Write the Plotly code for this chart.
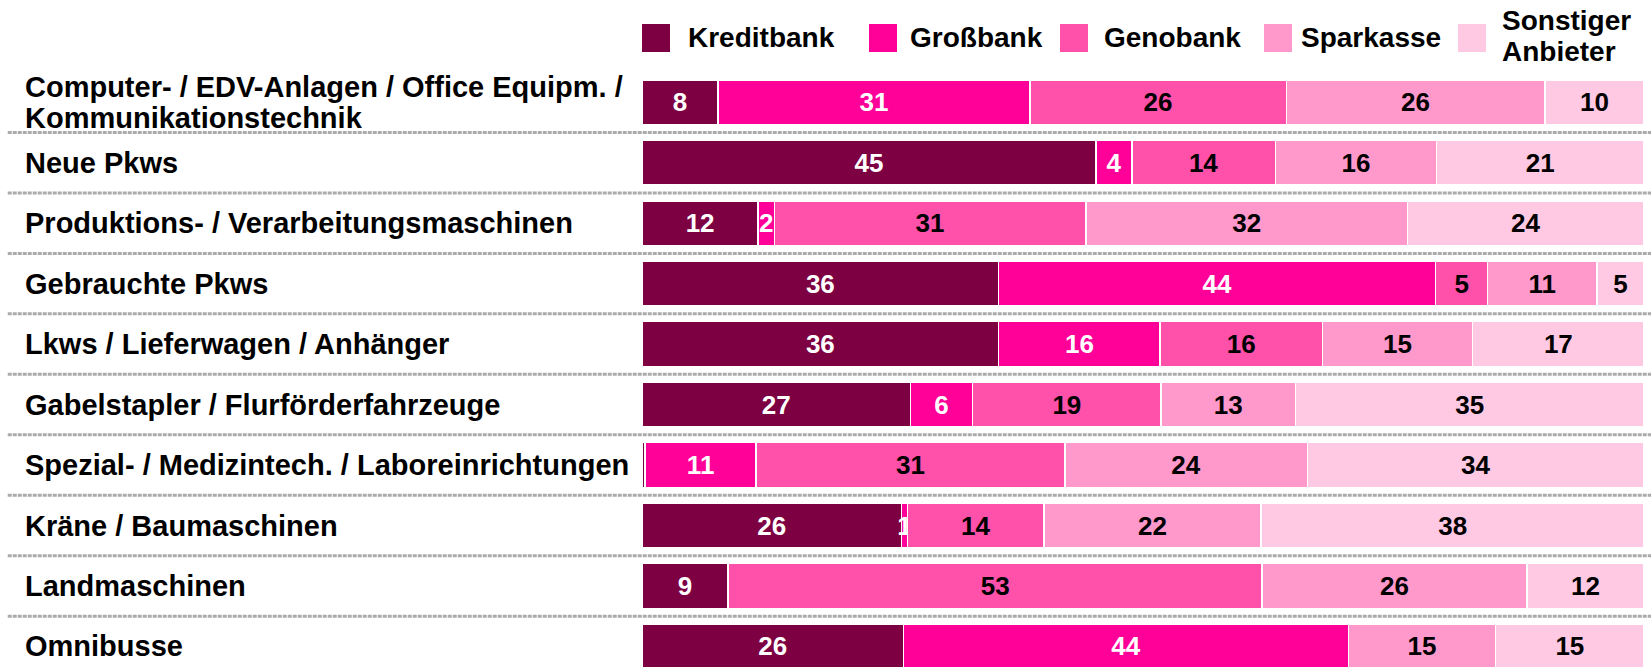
import plotly.graph_objects as go

categories = [
    "Computer- / EDV-Anlagen / Office Equipm. /<br>Kommunikationstechnik",
    "Neue Pkws",
    "Produktions- / Verarbeitungsmaschinen",
    "Gebrauchte Pkws",
    "Lkws / Lieferwagen / Anhänger",
    "Gabelstapler / Flurförderfahrzeuge",
    "Spezial- / Medizintech. / Laboreinrichtungen",
    "Kräne / Baumaschinen",
    "Landmaschinen",
    "Omnibusse",
]

series_names = ["Kreditbank", "Großbank", "Genobank", "Sparkasse", "Sonstiger<br>Anbieter"]

kreditbank = [7.6, 45.3, 11.6, 35.6, 35.6, 26.8, 0.3, 25.9, 8.6, 26.1]
grossbank = [31.1, 3.6, 1.6, 43.6, 16.1, 6.2, 11.1, 0.6, 0.0, 44.4]
genobank = [25.6, 14.3, 31.1, 5.2, 16.2, 18.8, 30.8, 13.6, 53.3, 0.0]
sparkasse = [25.8, 16.1, 32.1, 10.9, 15.0, 13.4, 24.2, 21.7, 26.4, 14.7]
sonstige = [9.9, 20.7, 23.6, 4.7, 17.1, 34.8, 33.6, 38.2, 11.7, 14.8]

series_values = [kreditbank, grossbank, genobank, sparkasse, sonstige]
colors = ["#7D0042", "#FF0099", "#FF50AA", "#FF99CC", "#FFC9E4"]
text_colors = ["white", "white", "black", "black", "black"]

FONT = "Arial, 'Liberation Sans', sans-serif"
LINE_GAP = 31  # px between lines of multi-line labels

fig = go.Figure()
for name, vals, col, tcol in zip(series_names, series_values, colors, text_colors):
    labels = [f"{round(v)}" if v >= 0.5 else "" for v in vals]
    fig.add_trace(go.Bar(
        y=categories, x=vals, name=name.replace("<br>", " "), orientation="h",
        marker=dict(color=col, line=dict(color="white", width=1.5)),
        text=labels, textposition="inside", insidetextanchor="middle",
        textangle=0, constraintext="none",
        textfont=dict(family=FONT, size=26, color=tcol, weight="bold"),
        hoverinfo="x+name", showlegend=False,
    ))

# separators between rows
for i in range(len(categories) - 1):
    fig.add_shape(type="line", xref="paper", yref="y",
                  x0=-0.633, x1=1.01, y0=i + 0.5, y1=i + 0.5,
                  line=dict(color="#ABABAB", width=3, dash="4px,1px"))


def multiline(text, **kw):
    lines = text.split("<br>")
    n = len(lines)
    for k, ln in enumerate(lines):
        shift = ((n - 1) / 2 - k) * LINE_GAP
        fig.add_annotation(text=f"<b>{ln}</b>", yshift=shift, showarrow=False,
                           xanchor="left", yanchor="middle", align="left", **kw)


# row labels, left aligned
for c in categories:
    multiline(c, xref="paper", yref="y", x=-0.618, y=c,
              font=dict(family=FONT, size=29, color="black"))

# legend (manual, large swatches)
W = 1002.0
L = 642.0
PH = 595.0
legend_sq = [642, 869, 1060, 1264, 1458]
legend_tx = [686, 908, 1102, 1299, 1500]
legend_cy = [38, 38, 38, 38, 36]
for name, col, sx, tx, cy in zip(series_names, colors, legend_sq, legend_tx, legend_cy):
    fig.add_shape(type="rect", xref="paper", yref="paper",
                  x0=(sx - L) / W, x1=(sx + 28 - L) / W,
                  y0=1 + (72 - 52) / PH, y1=1 + (72 - 24) / PH,
                  line=dict(width=0), fillcolor=col)
    multiline(name, xref="paper", yref="paper", x=(tx - L) / W, y=1 + (72 - cy) / PH,
              font=dict(family=FONT, size=28, color="black"))

fig.update_layout(
    barmode="stack", bargap=0.26,
    width=1651, height=667,
    margin=dict(l=642, r=7, t=72, b=0, pad=0),
    plot_bgcolor="white", paper_bgcolor="white",
    xaxis=dict(range=[0, 100], visible=False, fixedrange=True),
    yaxis=dict(categoryorder="array", categoryarray=categories,
               range=[9.34, -0.5], showticklabels=False, showgrid=False,
               zeroline=False, showline=False, ticks=""),
    font=dict(family=FONT),
)

fig.write_html("out.html", config={"displayModeBar": False},
               post_script="document.body.style.margin='0px';document.body.style.overflow='hidden';")
